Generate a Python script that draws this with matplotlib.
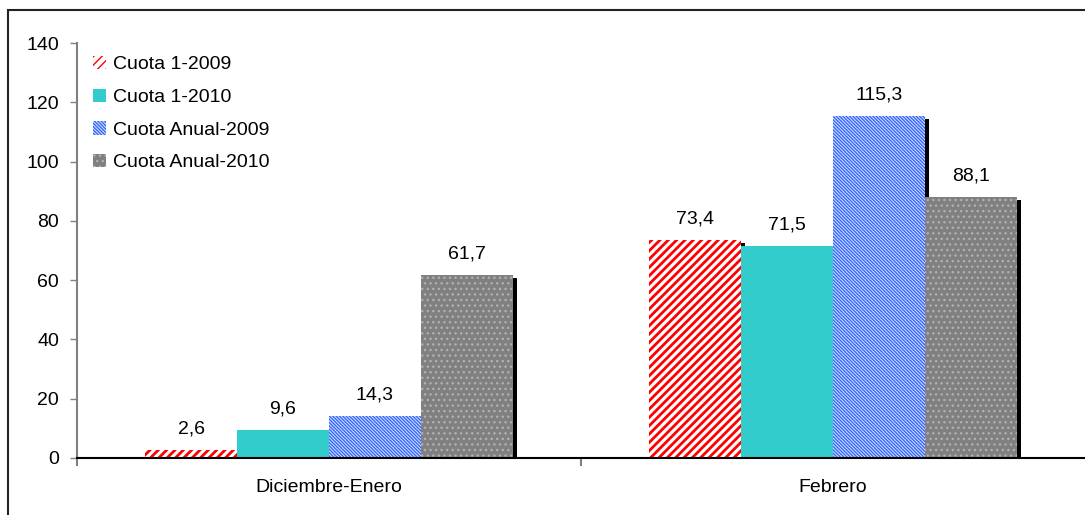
import numpy as np
import matplotlib.pyplot as plt
from matplotlib.patches import Rectangle

plt.rcParams['font.family'] = ['Liberation Sans', 'DejaVu Sans']

# data
categories = ['Diciembre-Enero', 'Febrero']
series_names = ['Cuota 1-2009', 'Cuota 1-2010', 'Cuota Anual-2009', 'Cuota Anual-2010']
cuota1_2009 = [2.6, 73.4]
cuota1_2010 = [9.6, 71.5]
anual_2009 = [14.3, 115.3]
anual_2010 = [61.7, 88.1]
series_values = [cuota1_2009, cuota1_2010, anual_2009, anual_2010]

# look of each series: face, hatch colour, hatch, hatch line width
styles = [
    ('white', '#FF0000', '////', 2.0),
    ('#33CCCC', '#33CCCC', None, 1.0),
    ('#DDE6FF', '#3366FF', '\\\\\\\\\\\\\\\\\\\\', 1.0),
    ('#808080', '#B0B0B0', '...', 1.0),
]

fig = plt.figure(figsize=(10.85, 5.15), dpi=100)
ax = fig.add_axes([77 / 1085, 1 - 458 / 515, 1 - 77 / 1085, (458 - 43) / 515])

x = np.arange(len(categories))
width = 0.1825
offsets = (np.arange(4) - 1.5) * width
shadow_dx = 4 / 504
shadow_dy = 1.0

for i, (name, vals) in enumerate(zip(series_names, series_values)):
    face, hcol, hatch, hlw = styles[i]
    vals = np.array(vals)
    # drop shadow first, then the bar itself
    ax.bar(x + offsets[i] + shadow_dx, vals - shadow_dy, width, color='black',
           linewidth=0, zorder=2 + i * 2)
    plt.rcParams['hatch.linewidth'] = hlw
    bars = ax.bar(x + offsets[i], vals, width, facecolor=face, edgecolor=hcol,
                  hatch=hatch, linewidth=0, label=name, zorder=3 + i * 2)
    for b in bars:
        if hasattr(b, 'set_hatch_linewidth'):
            b.set_hatch_linewidth(hlw)
    for xi, v in zip(x + offsets[i], vals):
        ax.annotate(f'{v:.1f}'.replace('.', ','), (xi, v), xytext=(0, 9),
                    textcoords='offset points', ha='center', va='bottom',
                    fontsize=14, zorder=20)

ax.set_xlim(-0.5, 1.5)
ax.set_ylim(0, 140)
ax.set_yticks(np.arange(0, 141, 20))
ax.set_xticks(x)
ax.set_xticklabels(categories)
ax.set_xticks([-0.5, 0.5], minor=True)
ax.tick_params(axis='x', which='major', length=0, pad=15, labelsize=14)
ax.tick_params(axis='x', which='minor', length=6, width=1.5, color='#808080')
ax.tick_params(axis='y', length=5, width=1, color='#808080', pad=8, labelsize=14)

for s in ['top', 'right']:
    ax.spines[s].set_visible(False)
ax.spines['left'].set_color('#808080')
ax.spines['left'].set_linewidth(1.5)
ax.spines['bottom'].set_color('black')
ax.spines['bottom'].set_linewidth(1.5)
ax.spines['bottom'].set_zorder(30)

leg = ax.legend(loc='upper left', bbox_to_anchor=(93 / 1085, 1 - 56 / 515),
                bbox_transform=fig.transFigure, frameon=False, fontsize=14,
                handlelength=0.68, handleheight=0.68, handletextpad=0.35,
                labelspacing=0.78, borderpad=0, borderaxespad=0)

# outer chart frame
fig.patches.append(Rectangle((8 / 1085, -0.1), 1.2, 1 - 10 / 515 + 0.1,
                             transform=fig.transFigure, fill=False,
                             edgecolor='#222222', linewidth=1.5, zorder=0))

fig.savefig('out.png', dpi=100)
